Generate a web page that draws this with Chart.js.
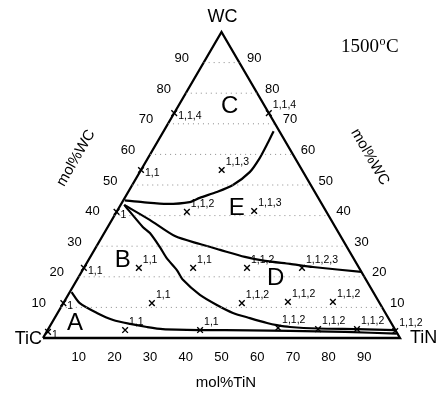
<!DOCTYPE html>
<html>
<head>
<meta charset="utf-8">
<script src="https://cdn.jsdelivr.net/npm/chart.js@4.4.0/dist/chart.umd.min.js"></script>
<style>
  html, body { margin: 0; padding: 0; background: #fff; }
  #wrap { width: 438px; height: 394px; position: relative; }
</style>
</head>
<body>
<div id="wrap"><canvas id="chart"></canvas></div>
<script>
// all compositions are [mol% TiN, mol% WC], the rest is TiC
const edgeTicks = [10, 20, 30, 40, 50, 60, 70, 80, 90];
const gridLevels = [10, 20, 30, 40, 50, 60, 70, 80, 90];

// phase boundaries
const boundaryA = [[0.5, 15], [4.6, 11.4], [11, 8.2], [16.7, 5.9], [22.1, 4.6], [27.3, 3.6], [32.1, 2.9],
  [42.7, 2.6], [56.7, 2.5], [68, 2.3], [83.6, 2.0], [98.4, 1.4]];
const boundaryBD = [[1, 43.5], [9.8, 36.3], [12.8, 34.3], [17.9, 29.7], [21.6, 26.1], [26.4, 22.2], [29.7, 19],
  [36.9, 14.1], [43.3, 10.8], [49.1, 8.2], [54.7, 6.5], [60.3, 4.9], [63.4, 4.2], [67.4, 3.6], [75.5, 3.1],
  [86.5, 2.9], [97.3, 2.6]];
const boundaryDE = [[1, 43.5], [10.6, 38.6], [20.3, 33.3], [28.6, 30.7], [35.2, 28.8], [43.3, 26.5], [49.6, 25.2],
  [57.1, 24.2], [64, 23.2], [78.4, 21.6]];
const boundaryCE = [[0.4, 45], [5.7, 44.4], [12.8, 43.8], [18.9, 44.4], [21, 45.8], [24.8, 47.7], [28.2, 50],
  [30.8, 54.2], [31.3, 58.8], [31.1, 63.7], [30.8, 67.6]];

// sample compositions and the phases found
const sampleTiN = [0.4, 21.7, 42.7, 64.2, 75.6, 86.5, 97.5, 0, 24.8, 50, 62.7, 75.3, 0, 15.4, 30.6, 45.7, 61.1,
  0, 19.7, 38.4, 0, 22.6, 0, 26.5];
const sampleWC = [2, 2.6, 2.6, 3.3, 2.9, 2.9, 2.3, 11.4, 11.4, 11.4, 11.8, 11.8, 22.9, 22.9, 22.9, 22.9, 22.9,
  41.2, 41.2, 41.5, 54.9, 54.9, 73.5, 73.5];
const sampleLabels = ['1', '1,1', '1,1', '1,1,2', '1,1,2', '1,1,2', '1,1,2', '1', '1,1', '1,1,2', '1,1,2', '1,1,2',
  '1,1', '1,1', '1,1', '1,1,2', '1,1,2,3', '1', '1,1,2', '1,1,3', '1,1', '1,1,3', '1,1,4', '1,1,4'];

// phase field names
const regionNames = ['A', 'B', 'C', 'D', 'E'];
const regionTiN = [6.5, 9.6, 14.4, 55.4, 33];
const regionWC = [4.9, 25.5, 75.8, 19.6, 42.5];

const H = Math.sqrt(3) / 2;
function toXY(tin, wc) {
  return { x: (tin + wc / 2) / 100, y: wc * H / 100 };
}

function lineSet(points, extra) {
  return Object.assign({
    data: points.map(p => toXY(p[0], p[1])),
    showLine: true,
    borderColor: '#000',
    borderWidth: 2.2,
    pointRadius: 0,
    tension: 0.25,
    clip: false
  }, extra || {});
}

const datasets = [];
// dotted iso-WC lines
gridLevels.forEach(k => {
  datasets.push(lineSet([[0, k], [100 - k, k]], {
    borderColor: '#8a8a8a', borderWidth: 1, borderDash: [1, 4], tension: 0
  }));
});
// triangle frame
datasets.push(lineSet([[0, 0], [100, 0], [0, 100], [0, 0]], { tension: 0, borderWidth: 2.3 }));
[boundaryA, boundaryBD, boundaryDE, boundaryCE].forEach(b => datasets.push(lineSet(b)));
// sample marks
datasets.push({
  data: sampleTiN.map((t, i) => toXY(t, sampleWC[i])),
  showLine: false,
  pointStyle: 'crossRot',
  pointRadius: 4,
  borderColor: '#000',
  borderWidth: 1.4,
  clip: false
});

const textPlugin = {
  id: 'ternaryText',
  afterDatasetsDraw(chart) {
    const ctx = chart.ctx;
    const xs = chart.scales.x, ys = chart.scales.y;
    const px = (t, w) => {
      const p = toXY(t, w);
      return [xs.getPixelForValue(p.x), ys.getPixelForValue(p.y)];
    };
    ctx.save();
    ctx.fillStyle = '#000';
    ctx.textBaseline = 'middle';

    // tick labels on the three sides
    ctx.font = '13px "Liberation Sans", Arial, sans-serif';
    ctx.textAlign = 'center';
    edgeTicks.forEach(k => {
      let [x, y] = px(k, 0);
      ctx.fillText(String(k), x, y + 19);
      [x, y] = px(0, k);
      ctx.fillText(String(k), x - 22, y - 4);
      [x, y] = px(100 - k, k);
      ctx.fillText(String(k), x + 15, y - 4);
    });

    // corner names
    ctx.font = '18px "Liberation Sans", Arial, sans-serif';
    let [x, y] = px(0, 100);
    ctx.fillText('WC', x + 1, y - 15);
    [x, y] = px(0, 0);
    ctx.textAlign = 'right';
    ctx.fillText('TiC', x - 1, y + 1);
    [x, y] = px(100, 0);
    ctx.textAlign = 'left';
    ctx.fillText('TiN', x + 10, y);

    // axis titles
    ctx.font = '15px "Liberation Sans", Arial, sans-serif';
    ctx.textAlign = 'center';
    ctx.fillText('mol%TiN', 226, 383);
    ctx.save();
    ctx.translate(76, 158);
    ctx.rotate(-Math.PI / 3);
    ctx.fillText('mol%WC', 0, 0);
    ctx.restore();
    ctx.save();
    ctx.translate(370, 157);
    ctx.rotate(Math.PI / 3);
    ctx.fillText('mol%WC', 0, 0);
    ctx.restore();

    // temperature
    ctx.textAlign = 'left';
    ctx.font = '19px "Liberation Serif", "Times New Roman", serif';
    ctx.fillText('1500', 341, 47);
    let w = ctx.measureText('1500').width;
    ctx.font = '12px "Liberation Serif", "Times New Roman", serif';
    ctx.fillText('o', 341 + w + 0.5, 42);
    let w2 = ctx.measureText('o').width;
    ctx.font = '19px "Liberation Serif", "Times New Roman", serif';
    ctx.fillText('C', 341 + w + w2 + 1, 47);

    // phase field letters
    ctx.font = '24px "Liberation Sans", Arial, sans-serif';
    ctx.textAlign = 'center';
    regionNames.forEach((n, i) => {
      const [rx, ry] = px(regionTiN[i], regionWC[i]);
      ctx.fillText(n, rx, ry);
    });

    // phase counts next to each sample
    ctx.font = '10.5px "Liberation Sans", Arial, sans-serif';
    ctx.textAlign = 'left';
    sampleLabels.forEach((s, i) => {
      const [sx, sy] = px(sampleTiN[i], sampleWC[i]);
      if (sampleTiN[i] < 1) ctx.fillText(s, sx + 4, sy + 3);
      else ctx.fillText(s, sx + 4, sy - 8);
    });
    ctx.restore();
  }
};

new Chart(document.getElementById('chart'), {
  type: 'scatter',
  data: { datasets: datasets },
  options: {
    responsive: true,
    maintainAspectRatio: false,
    animation: false,
    layout: { padding: { left: 43, right: 38, top: 32, bottom: 56 } },
    plugins: { legend: { display: false }, tooltip: { enabled: false } },
    scales: {
      x: { type: 'linear', min: 0, max: 1, display: false },
      y: { type: 'linear', min: 0, max: H, display: false }
    }
  },
  plugins: [textPlugin]
});
</script>
</body>
</html>
